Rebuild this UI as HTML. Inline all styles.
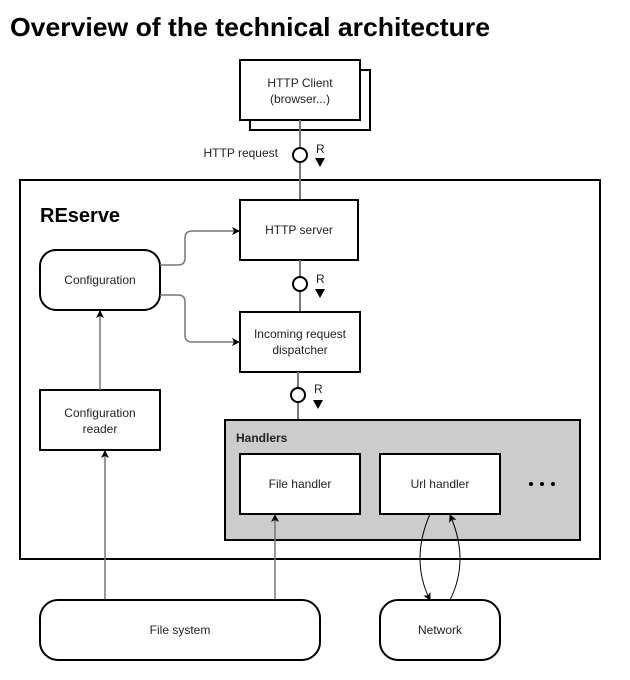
<!DOCTYPE html>
<html><head><meta charset="utf-8"><style>
html,body{margin:0;padding:0;background:#fff;}
svg{display:block;}
text{font-family:"Liberation Sans",sans-serif;fill:#222;}
</style></head><body>
<svg width="630" height="680" viewBox="0 0 630 680" xmlns="http://www.w3.org/2000/svg">
<defs>
<marker id="a" markerWidth="8" markerHeight="8" refX="7" refY="4" orient="auto" markerUnits="userSpaceOnUse">
<path d="M0,0 L8,4 L0,8 L2,4 z" fill="#000"/></marker>
</defs>
<text x="10" y="36" font-size="26" font-weight="bold" textLength="480" lengthAdjust="spacingAndGlyphs" style="fill:#000">Overview of the technical architecture</text>

<!-- HTTP client -->
<rect x="250" y="70" width="120" height="60" fill="#fff" stroke="#000" stroke-width="2"/>
<rect x="240" y="60" width="120" height="60" fill="#fff" stroke="#000" stroke-width="2"/>
<text x="300" y="87" font-size="12" text-anchor="middle">HTTP Client</text>
<text x="300" y="103" font-size="12" text-anchor="middle">(browser...)</text>

<!-- outer -->
<rect x="20" y="180" width="580" height="379" fill="#fff" stroke="#000" stroke-width="2"/>
<text x="40" y="222" font-size="20" font-weight="bold" style="fill:#000">REserve</text>

<line x1="300" y1="120" x2="300" y2="200" stroke="#777" stroke-width="2"/>
<circle cx="300" cy="155" r="7" fill="#fff" stroke="#000" stroke-width="2"/>
<text x="278" y="157" font-size="12" text-anchor="end">HTTP request</text>
<text x="316" y="153" font-size="12">R</text>
<path d="M315,158 L325,158 L320,167 z" fill="#000"/>

<!-- HTTP server -->
<rect x="240" y="200" width="118" height="60" fill="#fff" stroke="#000" stroke-width="2"/>
<text x="299" y="234" font-size="12" text-anchor="middle">HTTP server</text>

<line x1="300" y1="260" x2="300" y2="312" stroke="#777" stroke-width="2"/>
<circle cx="300" cy="284" r="7" fill="#fff" stroke="#000" stroke-width="2"/>
<text x="316" y="283" font-size="12">R</text>
<path d="M315,289 L325,289 L320,298 z" fill="#000"/>

<!-- dispatcher -->
<rect x="240" y="312" width="120" height="60" fill="#fff" stroke="#000" stroke-width="2"/>
<text x="300" y="338" font-size="12" text-anchor="middle">Incoming request</text>
<text x="300" y="354" font-size="12" text-anchor="middle">dispatcher</text>

<line x1="298" y1="372" x2="298" y2="420" stroke="#777" stroke-width="2"/>
<circle cx="298" cy="395" r="7" fill="#fff" stroke="#000" stroke-width="2"/>
<text x="314" y="393" font-size="12">R</text>
<path d="M313,400 L323,400 L318,409 z" fill="#000"/>

<!-- handlers -->
<rect x="225" y="420" width="355" height="120" fill="#ccc" stroke="#000" stroke-width="2"/>
<text x="236" y="442" font-size="12" font-weight="bold">Handlers</text>
<rect x="240" y="454" width="120" height="60" fill="#fff" stroke="#000" stroke-width="2"/>
<text x="300" y="488" font-size="12" text-anchor="middle">File handler</text>
<rect x="380" y="454" width="120" height="60" fill="#fff" stroke="#000" stroke-width="2"/>
<text x="440" y="488" font-size="12" text-anchor="middle">Url handler</text>
<circle cx="531" cy="484" r="2" fill="#000"/><circle cx="542" cy="484" r="2" fill="#000"/><circle cx="553" cy="484" r="2" fill="#000"/>

<!-- configuration -->
<rect x="40" y="250" width="120" height="60" rx="16" fill="#fff" stroke="#000" stroke-width="2"/>
<text x="100" y="284" font-size="12" text-anchor="middle">Configuration</text>
<rect x="40" y="390" width="120" height="60" fill="#fff" stroke="#000" stroke-width="2"/>
<text x="100" y="417" font-size="12" text-anchor="middle">Configuration</text>
<text x="100" y="433" font-size="12" text-anchor="middle">reader</text>

<path d="M160,265 L178,265 Q185,265 185,258 L185,238 Q185,231 192,231 L239,231" fill="none" stroke="#777" stroke-width="1.5" marker-end="url(#a)"/>
<path d="M160,295 L178,295 Q185,295 185,302 L185,335 Q185,342 192,342 L239,342" fill="none" stroke="#777" stroke-width="1.5" marker-end="url(#a)"/>
<line x1="100" y1="390" x2="100" y2="311" stroke="#777" stroke-width="1.5" marker-end="url(#a)"/>
<line x1="105" y1="600" x2="105" y2="451" stroke="#777" stroke-width="1.5" marker-end="url(#a)"/>
<line x1="275" y1="600" x2="275" y2="515" stroke="#777" stroke-width="1.5" marker-end="url(#a)"/>

<!-- bottom -->
<rect x="40" y="600" width="280" height="60" rx="18" fill="#fff" stroke="#000" stroke-width="2"/>
<text x="180" y="634" font-size="12" text-anchor="middle">File system</text>
<rect x="380" y="600" width="120" height="60" rx="18" fill="#fff" stroke="#000" stroke-width="2"/>
<text x="440" y="634" font-size="12" text-anchor="middle">Network</text>

<path d="M430,514 Q410,560 430,600" fill="none" stroke="#000" stroke-width="1" marker-end="url(#a)"/>
<path d="M450,600 Q470,560 450,515" fill="none" stroke="#000" stroke-width="1" marker-end="url(#a)"/>
</svg>
</body></html>
